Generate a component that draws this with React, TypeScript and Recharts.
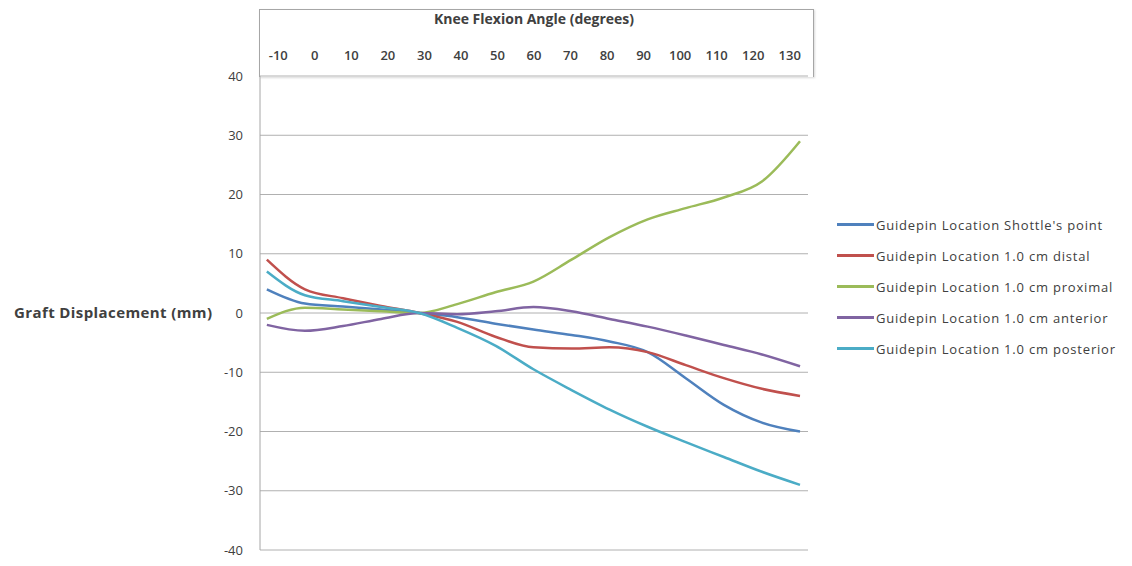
import React from "react";
import {
  LineChart,
  Line,
  XAxis,
  YAxis,
  CartesianGrid,
} from "recharts";

// knee flexion angle (degrees)
const angles = [-10, 0, 10, 20, 30, 40, 50, 60, 70, 80, 90, 100, 110, 120, 130];

// graft displacement (mm) per guidepin location
const shottle = [4, 1.6, 1.1, 0.6, 0, -0.7, -1.8, -2.8, -3.7, -4.8, -6.6, -11, -15.5, -18.5, -20];
const distal = [9, 4, 2.5, 1.2, 0, -1.5, -4, -5.8, -6, -5.8, -6.6, -8.8, -11, -12.8, -14];
const proximal = [-1, 0.9, 0.6, 0.3, 0, 1.5, 3.5, 5.3, 9, 12.8, 15.8, 17.7, 19.5, 22.2, 29];
const anterior = [-2, -3, -2.2, -1, 0, -0.2, 0.3, 1, 0.3, -1, -2.3, -3.8, -5.4, -7, -9];
const posterior = [7, 3, 2, 1, 0, -2.5, -5.5, -9.5, -13, -16.3, -19.2, -21.8, -24.3, -26.8, -29];

const yTicks = [-40, -30, -20, -10, 0, 10, 20, 30, 40];

const series = [
  { key: "shottle", name: "Guidepin Location Shottle's point", color: "#4F81BD", values: shottle },
  { key: "distal", name: "Guidepin Location 1.0 cm distal", color: "#C0504D", values: distal },
  { key: "proximal", name: "Guidepin Location 1.0 cm proximal", color: "#9BBB59", values: proximal },
  { key: "anterior", name: "Guidepin Location 1.0 cm anterior", color: "#8064A2", values: anterior },
  { key: "posterior", name: "Guidepin Location 1.0 cm posterior", color: "#4BACC6", values: posterior },
];

const data = angles.map((angle, i) => {
  const row: Record<string, number> = { angle };
  series.forEach((s) => {
    row[s.key] = s.values[i];
  });
  return row;
});

const FONT = "'Open Sans', sans-serif";

const App = () => {
  return (
    <div style={{ position: "absolute", left: 0, top: 0, width: 1132, height: 566, background: "#fff" }}>
      {/* box around the top axis */}
      <div
        style={{
          position: "absolute",
          left: 259,
          top: 9,
          width: 553,
          height: 67,
          borderTop: "1px solid #a6a6a6",
          borderRight: "1px solid #a6a6a6",
          borderLeft: "1px solid #a6a6a6",
          boxShadow: "1px 1px 2px rgba(0,0,0,0.15)",
        }}
      />
      <LineChart
        width={1132}
        height={566}
        data={data}
        margin={{ top: 9, right: 324, bottom: 16, left: 0 }}
        style={{ position: "absolute", left: 0, top: 0 }}
      >
        <CartesianGrid horizontal vertical={false} stroke="#b0b0b0" />
        <XAxis
          dataKey="angle"
          type="number"
          domain={[-11.8, 132.1]}
          allowDataOverflow
          hide
          height={0}
        />
        <XAxis
          xAxisId="top"
          orientation="top"
          dataKey="angle"
          type="category"
          scale="band"
          height={67}
          axisLine={false}
          tickLine={false}
          tickSize={0}
          tickMargin={16}
          interval={0}
          tick={{ fontFamily: FONT, fontSize: 13, fontWeight: 600, fill: "#404040" }}
          label={{
            value: "Knee Flexion Angle (degrees)",
            position: "insideTop",
            offset: 5,
            style: { fontFamily: FONT, fontSize: 14, fontWeight: 700, fill: "#404040" },
          }}
        />
        <YAxis
          width={260}
          domain={[-40, 40]}
          ticks={yTicks}
          interval={0}
          axisLine={{ stroke: "#a6a6a6" }}
          tickLine={false}
          tickSize={0}
          tickMargin={17}
          tick={{ fontFamily: FONT, fontSize: 13, fill: "#404040" }}
          label={{
            value: "Graft Displacement (mm)",
            position: "insideLeft",
            angle: 0,
            offset: 14,
            style: {
              fontFamily: FONT,
              fontSize: 15,
              fontWeight: 700,
              letterSpacing: 0.4,
              fill: "#404040",
              textAnchor: "start",
            },
          }}
        />
        {series.map((s) => (
          <Line
            key={s.key}
            dataKey={s.key}
            name={s.name}
            type="monotone"
            stroke={s.color}
            strokeWidth={2.5}
            dot={false}
            isAnimationActive={false}
          />
        ))}
      </LineChart>
      {/* legend */}
      <div
        style={{
          position: "absolute",
          left: 837,
          top: 209,
          fontFamily: FONT,
          fontSize: 13,
          color: "#404040",
          letterSpacing: 0.8,
          whiteSpace: "nowrap",
        }}
      >
        {series.map((s) => (
          <div key={s.key} style={{ display: "flex", alignItems: "center", height: 31 }}>
            <div style={{ width: 37, height: 3, background: s.color, marginRight: 2 }} />
            <span>{s.name}</span>
          </div>
        ))}
      </div>
    </div>
  );
};

export default App;
